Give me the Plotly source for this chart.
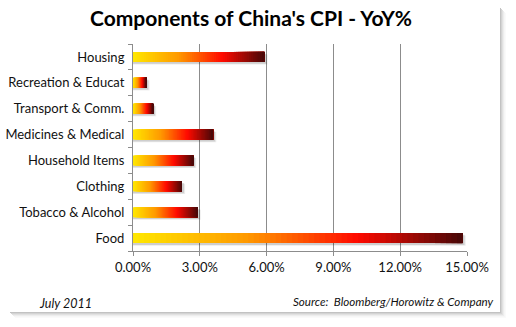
import plotly.graph_objects as go
import numpy as np

categories = ["Food", "Tobacco & Alcohol", "Clothing", "Household Items",
              "Medicines & Medical", "Transport & Comm.", "Recreation & Educat", "Housing"]
values = [14.8, 2.9, 2.2, 2.7, 3.6, 0.9, 0.6, 5.9]
x_ticks = [0, 3, 6, 9, 12, 15]
x_tick_labels = ["0.00%", "3.00%", "6.00%", "9.00%", "12.00%", "15.00%"]

# gradient colour stops (yellow -> orange -> red -> dark red)
stops = [(0.0, (255, 232, 0)), (0.35, (255, 152, 0)), (0.68, (255, 10, 0)), (1.0, (70, 8, 8))]

def grad(t):
    for (t0, c0), (t1, c1) in zip(stops[:-1], stops[1:]):
        if t <= t1:
            f = (t - t0) / (t1 - t0)
            return "rgb(%d,%d,%d)" % tuple(round(a + (b - a) * f) for a, b in zip(c0, c1))
    return "rgb(%d,%d,%d)" % stops[-1][1]

BW = 0.39  # bar thickness (category units)
N = 60
vals = np.array(values)
fig = go.Figure()

# soft drop shadow under each bar
for dx, dy, op in [(0.14, 0.10, 0.08), (0.09, 0.07, 0.12)]:
    fig.add_trace(go.Bar(
        y=categories, x=vals + dx, orientation="h", width=BW, offset=-BW / 2 - dy,
        marker=dict(color="rgba(0,0,0,%.2f)" % op, line=dict(width=0)),
        showlegend=False, hoverinfo="skip"))

# gradient bars: layered so each later segment covers the rest of the bar
for i in range(N):
    fig.add_trace(go.Bar(
        y=categories, x=vals * (1 - i / N), base=vals * i / N, orientation="h",
        width=BW, offset=-BW / 2,
        marker=dict(color=grad((i + 0.5) / N), line=dict(width=0)),
        showlegend=False, hoverinfo="skip"))

font = "Lato, 'Open Sans', sans-serif"
L, R, T, B = 133, 49, 44, 76
W, H = 516, 327
pw, ph = W - L - R, H - T - B

def px(x):
    return (x - L) / pw

def py(y):
    return (H - B - y) / ph

shapes = []
# frame drop shadow
for k, op in enumerate([0.35, 0.25, 0.17, 0.1, 0.05, 0.03]):
    shapes.append(dict(type="rect", xref="paper", yref="paper", layer="below",
                       x0=px(500 + k), x1=px(501 + k), y0=py(8 + k), y1=py(312 + k),
                       fillcolor="rgba(80,80,80,%.2f)" % op, line=dict(width=0)))
    shapes.append(dict(type="rect", xref="paper", yref="paper", layer="below",
                       x0=px(10 + k), x1=px(501 + k), y0=py(312 + k), y1=py(313 + k),
                       fillcolor="rgba(80,80,80,%.2f)" % op, line=dict(width=0)))

fig.update_layout(
    width=W, height=H, margin=dict(l=L, r=R, t=T, b=B, autoexpand=False),
    paper_bgcolor="white", plot_bgcolor="white",
    barmode="overlay",
    font=dict(family=font, size=13, color="#111111"),
    shapes=shapes,
    xaxis=dict(range=[0, 15], tickvals=x_ticks, ticktext=x_tick_labels,
               showgrid=True, gridcolor="#8c8c8c", gridwidth=1,
               showline=True, linecolor="#8c8c8c", linewidth=1,
               ticks="outside", ticklen=4, tickcolor="#8c8c8c",
               zeroline=False, fixedrange=True, automargin=False),
    yaxis=dict(type="category", categoryorder="array", categoryarray=categories,
               range=[-0.5, len(categories) - 0.5],
               showline=True, linecolor="#8c8c8c", linewidth=1,
               ticks="outside", ticklen=4, tickcolor="#8c8c8c", tickson="boundaries",
               ticklabelstandoff=5, showgrid=False, fixedrange=True, automargin=False),
    annotations=[
        dict(text="<b>Components of China's CPI - YoY%</b>", xref="paper", yref="paper",
             x=px(251), y=py(17), xanchor="center", yanchor="middle", showarrow=False,
             font=dict(family=font, size=21, color="black")),
        dict(text="<i>July 2011</i>", xref="paper", yref="paper",
             x=px(37), y=py(303), xanchor="left", yanchor="middle", showarrow=False,
             font=dict(family=font, size=12.5, color="#111111")),
        dict(text="<i>Source:  Bloomberg/Horowitz & Company</i>", xref="paper", yref="paper",
             x=px(496), y=py(301), xanchor="right", yanchor="middle", showarrow=False,
             font=dict(family=font, size=11.6, color="#111111")),
    ],
)

fig.write_html("out.html", config={"displayModeBar": False})
